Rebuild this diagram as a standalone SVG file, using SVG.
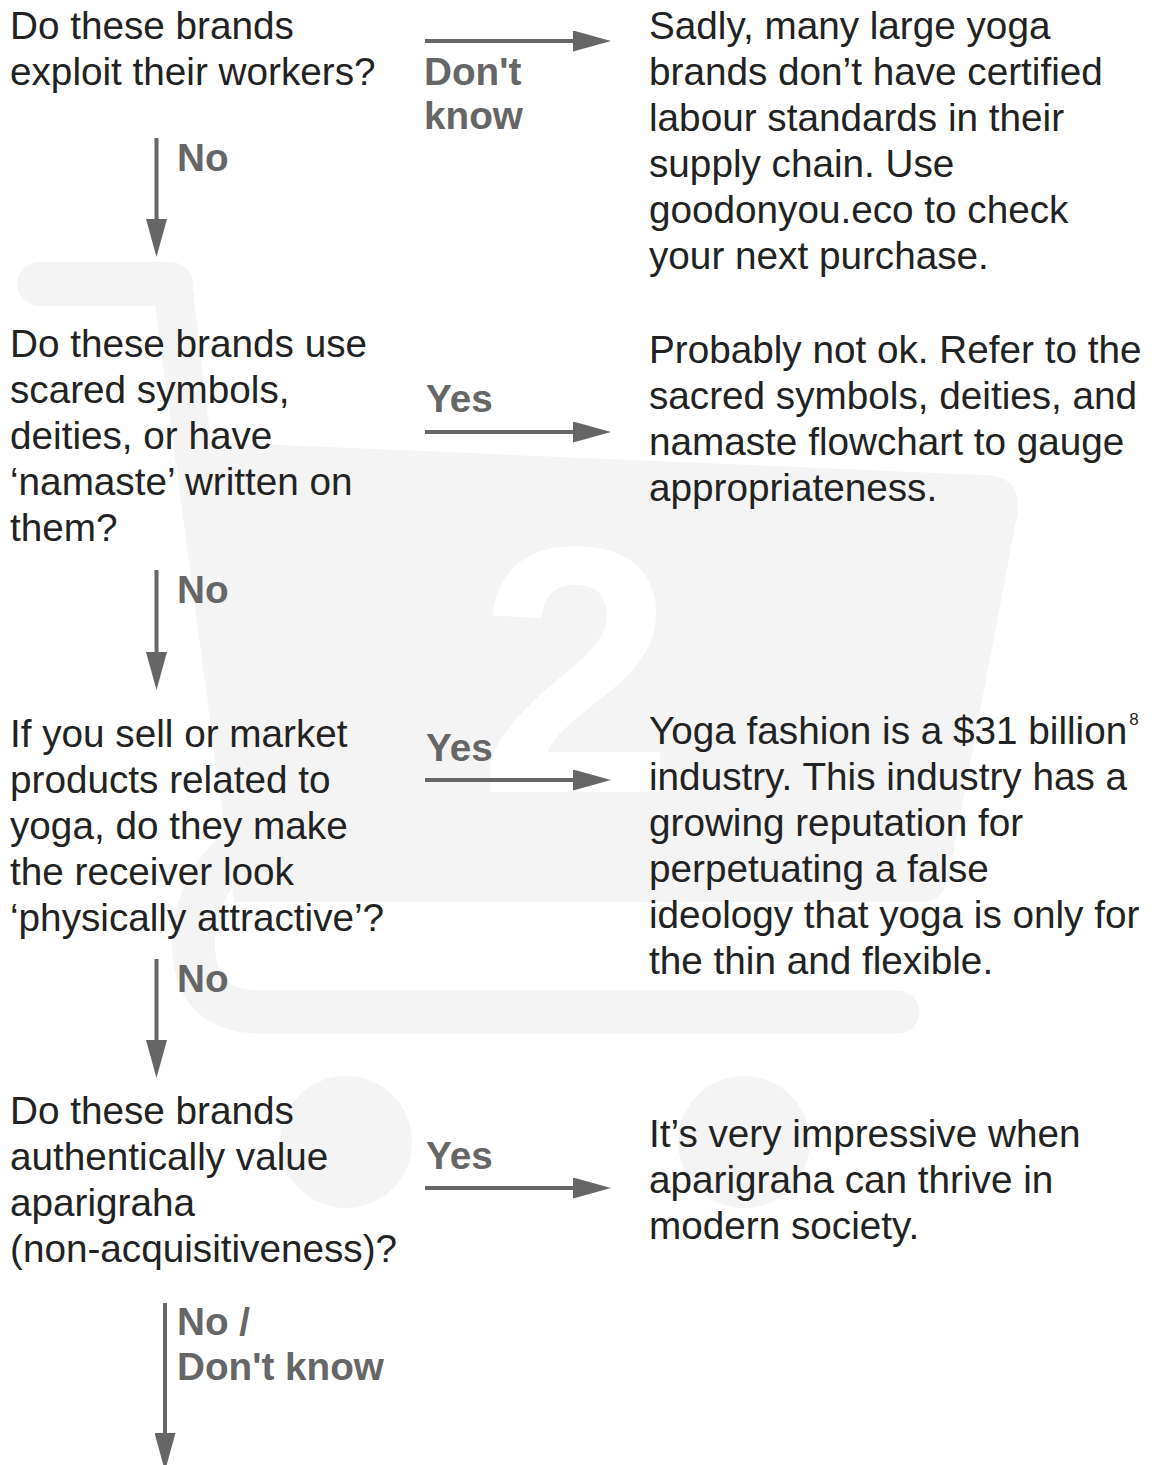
<svg xmlns="http://www.w3.org/2000/svg" width="1152" height="1465" viewBox="0 0 1152 1465">
  <defs>
    <style>
      .bg { fill: #f4f4f4; }
      .q { font-family: "Liberation Sans", Arial, sans-serif; font-size: 38.7px; fill: #222222; }
      .lbl { font-family: "Liberation Sans", Arial, sans-serif; font-size: 38.7px; font-weight: bold; fill: #666666; }
      .conn { stroke: #666666; stroke-width: 4; fill: none; marker-end: url(#ah); }
    </style>
    <marker id="ah" viewBox="0 0 38 21" refX="8" refY="10.5" markerWidth="38" markerHeight="21" markerUnits="userSpaceOnUse" orient="auto">
      <path d="M0,0 L38,10.5 L0,21 Z" fill="#666666"/>
    </marker>
  </defs>
  <rect width="1152" height="1465" fill="#ffffff"/>

  <g id="background-cart">
    <rect class="bg" x="17" y="262" width="176" height="44" rx="22"/>
    <path class="bg" d="M153,290 L193,290 L211,442 L985,475 Q1024,477 1017,516 L948,880 Q943,902 920,902 L234,902 Z"/>
    <path d="M226,860 C200,890 191,925 194,955 Q200,1012 260,1012 L898,1012" fill="none" stroke="#f4f4f4" stroke-width="43" stroke-linecap="round"/>
    <circle class="bg" cx="346" cy="1142" r="66"/>
    <circle class="bg" cx="744" cy="1142" r="66"/>
    <text x="576" y="792" text-anchor="middle" font-family="Liberation Sans, Arial, sans-serif" font-weight="bold" font-size="352" fill="#ffffff">2</text>
  </g>

  <g id="connectors">
    <line class="conn" x1="425" y1="41" x2="581" y2="41"/>
    <line class="conn" x1="156.5" y1="138" x2="156.5" y2="227"/>
    <line class="conn" x1="425" y1="432" x2="581" y2="432"/>
    <line class="conn" x1="156.5" y1="570" x2="156.5" y2="660"/>
    <line class="conn" x1="425" y1="780" x2="581" y2="780"/>
    <line class="conn" x1="156.5" y1="959" x2="156.5" y2="1048"/>
    <line class="conn" x1="425" y1="1188" x2="581" y2="1188"/>
    <line class="conn" x1="165" y1="1303" x2="165" y2="1441"/>
  </g>

  <g id="edge-labels">
    <text class="lbl"><tspan x="424" y="85">Don't</tspan><tspan x="424" y="129">know</tspan></text>
    <text class="lbl" x="177" y="171">No</text>
    <text class="lbl" x="426" y="412">Yes</text>
    <text class="lbl" x="177" y="603">No</text>
    <text class="lbl" x="426" y="761">Yes</text>
    <text class="lbl" x="177" y="992">No</text>
    <text class="lbl" x="426" y="1169">Yes</text>
    <text class="lbl"><tspan x="177" y="1335">No /</tspan><tspan x="177" y="1380">Don't know</tspan></text>
  </g>

  <g id="q1">
    <text class="q"><tspan x="10" y="39">Do these brands</tspan><tspan x="10" y="85">exploit their workers?</tspan></text>
  </g>
  <g id="a1">
    <text class="q"><tspan x="649" y="39">Sadly, many large yoga</tspan><tspan x="649" y="85">brands don’t have certified</tspan><tspan x="649" y="131">labour standards in their</tspan><tspan x="649" y="177">supply chain. Use</tspan><tspan x="649" y="223">goodonyou.eco to check</tspan><tspan x="649" y="269">your next purchase.</tspan></text>
  </g>
  <g id="q2">
    <text class="q"><tspan x="10" y="357">Do these brands use</tspan><tspan x="10" y="403">scared symbols,</tspan><tspan x="10" y="449">deities, or have</tspan><tspan x="10" y="495">‘namaste’ written on</tspan><tspan x="10" y="541">them?</tspan></text>
  </g>
  <g id="a2">
    <text class="q"><tspan x="649" y="363">Probably not ok. Refer to the</tspan><tspan x="649" y="409">sacred symbols, deities, and</tspan><tspan x="649" y="455">namaste flowchart to gauge</tspan><tspan x="649" y="501">appropriateness.</tspan></text>
  </g>
  <g id="q3">
    <text class="q"><tspan x="10" y="747">If you sell or market</tspan><tspan x="10" y="793">products related to</tspan><tspan x="10" y="839">yoga, do they make</tspan><tspan x="10" y="885">the receiver look</tspan><tspan x="10" y="931">‘physically attractive’?</tspan></text>
  </g>
  <g id="a3">
    <text class="q"><tspan x="649" y="744">Yoga fashion is a $31 billion</tspan><tspan font-size="17" dx="2" dy="-19">8</tspan><tspan x="649" y="790">industry. This industry has a</tspan><tspan x="649" y="836">growing reputation for</tspan><tspan x="649" y="882">perpetuating a false</tspan><tspan x="649" y="928">ideology that yoga is only for</tspan><tspan x="649" y="974">the thin and flexible.</tspan></text>
  </g>
  <g id="q4">
    <text class="q"><tspan x="10" y="1124">Do these brands</tspan><tspan x="10" y="1170">authentically value</tspan><tspan x="10" y="1216">aparigraha</tspan><tspan x="10" y="1262">(non-acquisitiveness)?</tspan></text>
  </g>
  <g id="a4">
    <text class="q"><tspan x="649" y="1147">It’s very impressive when</tspan><tspan x="649" y="1193">aparigraha can thrive in</tspan><tspan x="649" y="1239">modern society.</tspan></text>
  </g>
</svg>
